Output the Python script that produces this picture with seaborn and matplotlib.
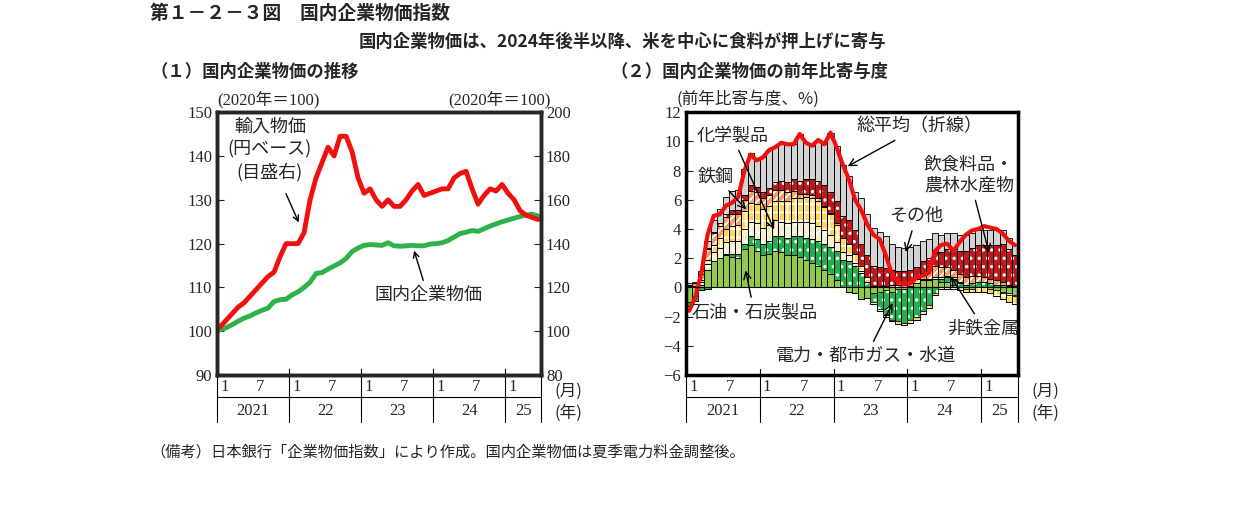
import matplotlib
matplotlib.use("Agg")
import matplotlib.pyplot as plt
import seaborn as sns
import numpy as np
import pandas as pd

# months Jan 2021 .. Jun 2025
n_months = 54
years = ["2021", "22", "23", "24", "25"]

# (1) price indices
import_price = [102, 105, 108, 111, 113, 116, 119, 122, 125, 127, 134, 140,
                140, 140, 145, 160, 170, 177, 184, 180, 189, 189, 182, 170,
                163, 165, 160, 157, 160, 157, 157, 160, 164, 167, 162, 163,
                164, 165, 165, 170, 172, 173, 165, 158, 162, 165, 164, 167,
                163, 160, 155, 153, 152, 151]
domestic_price = [100.3, 100.8, 101.5, 102.3, 103.0, 103.5, 104.2, 104.8, 105.3, 106.8, 107.2, 107.3,
                  108.3, 109.0, 110.0, 111.2, 113.2, 113.4, 114.2, 114.9, 115.6, 116.6, 118.2, 119.0,
                  119.6, 119.8, 119.7, 119.6, 120.2, 119.5, 119.4, 119.5, 119.6, 119.5, 119.5, 119.9,
                  120.0, 120.2, 120.7, 121.5, 122.3, 122.6, 123.0, 122.8, 123.4, 124.0, 124.5, 125.0,
                  125.4, 125.8, 126.2, 126.5, 126.7, 126.3]

# (2) contributions (% pt)
total = [-1.6, -0.7, 1.0, 3.6, 4.9, 5.0, 5.6, 5.8, 6.2, 8.0, 9.1, 8.7,
         8.9, 9.4, 9.6, 9.9, 9.8, 9.8, 10.5, 9.9, 9.7, 10.1, 9.8, 10.6,
         9.6, 8.4, 7.4, 6.0, 5.3, 4.3, 3.6, 3.3, 2.2, 0.9, 0.4, 0.2,
         0.3, 0.7, 0.8, 1.0, 2.5, 2.9, 3.0, 2.5, 3.1, 3.6, 3.9, 4.0,
         4.2, 4.1, 4.0, 3.7, 3.2, 2.9]
oil = [-1.0, -0.6, 0.2, 1.2, 1.8, 2.0, 2.2, 2.1, 2.0, 2.6, 2.9, 2.5,
       2.2, 2.3, 2.5, 2.4, 2.2, 2.2, 2.1, 1.9, 1.7, 1.5, 1.2, 0.9,
       0.5, 0.0, -0.3, -0.4, -0.8, -0.7, -0.4, -0.3, -0.2, -0.3, -0.1, -0.1,
       0.1, 0.3, 0.5, 0.5, 0.6, 0.4, 0.4, 0.2, 0.0, -0.1, -0.1, 0.0,
       0.0, -0.1, -0.2, -0.3, -0.4, -0.5]
electric = [-0.3, -0.3, -0.2, -0.1, 0.0, 0.0, 0.1, 0.2, 0.3, 0.4, 0.6, 0.8,
            0.8, 0.9, 1.0, 1.1, 1.2, 1.3, 1.4, 1.5, 1.6, 1.7, 1.8, 1.9,
            2.0, 1.9, 1.8, 1.5, 1.0, 0.4, -0.6, -1.2, -1.6, -1.9, -2.2, -2.3,
            -2.2, -2.0, -1.6, -1.2, -0.4, 0.2, 0.3, 0.4, 0.3, 0.2, 0.3, 0.4,
            0.4, 0.3, 0.2, 0.2, 0.1, 0.1]
chemical = [0.1, 0.1, 0.2, 0.4, 0.6, 0.7, 0.8, 0.9, 0.9, 1.0, 1.0, 1.1,
            1.1, 1.1, 1.1, 1.0, 1.0, 1.0, 1.0, 1.1, 1.1, 1.0, 0.9, 0.8,
            0.6, 0.5, 0.4, 0.2, 0.1, 0.0, -0.1, -0.1, -0.1, 0.0, 0.0, 0.0,
            0.0, 0.0, 0.1, 0.1, 0.1, 0.1, 0.1, 0.1, 0.1, 0.0, 0.0, 0.0,
            0.0, 0.0, 0.0, -0.1, -0.1, -0.1]
steel = [0.0, 0.0, 0.1, 0.3, 0.5, 0.7, 0.9, 1.0, 1.1, 1.2, 1.3, 1.3,
         1.3, 1.3, 1.3, 1.4, 1.5, 1.6, 1.6, 1.7, 1.7, 1.7, 1.6, 1.4,
         1.2, 1.0, 0.8, 0.6, 0.4, 0.3, 0.1, 0.0, -0.1, -0.1, -0.2, -0.2,
         -0.2, -0.2, -0.2, -0.2, -0.1, -0.1, -0.1, -0.1, -0.2, -0.2, -0.2, -0.3,
         -0.3, -0.3, -0.4, -0.4, -0.5, -0.5]
nonferrous = [0.1, 0.2, 0.4, 0.7, 0.8, 0.8, 0.8, 0.8, 0.7, 0.8, 0.8, 0.8,
              0.7, 0.7, 0.8, 0.8, 0.6, 0.5, 0.3, 0.2, 0.2, 0.2, 0.1, 0.1,
              0.1, 0.0, 0.0, 0.0, 0.0, 0.0, 0.0, 0.1, 0.1, 0.2, 0.2, 0.2,
              0.2, 0.3, 0.4, 0.6, 0.8, 0.7, 0.6, 0.5, 0.5, 0.5, 0.5, 0.4,
              0.3, 0.3, 0.3, 0.2, 0.1, 0.0]
food = [0.0, 0.0, 0.0, 0.1, 0.1, 0.2, 0.2, 0.3, 0.3, 0.3, 0.4, 0.4,
        0.4, 0.5, 0.5, 0.6, 0.7, 0.8, 0.9, 1.0, 1.1, 1.2, 1.4, 1.4,
        1.5, 1.5, 1.6, 1.6, 1.5, 1.5, 1.4, 1.3, 1.2, 1.0, 0.9, 0.9,
        0.9, 0.8, 0.8, 0.8, 0.9, 1.0, 1.2, 1.4, 1.6, 1.8, 1.9, 2.1,
        2.2, 2.3, 2.4, 2.6, 2.4, 2.1]
others = [0.1, 0.1, 0.2, 0.5, 0.8, 1.0, 1.2, 1.3, 1.4, 1.8, 2.2, 1.8,
          2.4, 2.6, 2.4, 2.6, 2.6, 2.4, 3.2, 2.5, 2.3, 2.8, 2.8, 4.1,
          3.8, 3.5, 3.0, 2.6, 3.1, 2.8, 2.6, 2.4, 2.2, 1.8, 1.7, 1.6,
          1.6, 1.5, 1.4, 1.3, 1.3, 1.2, 1.1, 1.1, 1.1, 1.1, 1.0, 1.0,
          1.0, 1.0, 1.0, 0.9, 0.8, 0.8]

sns.set_style("white")
plt.rcParams["font.family"] = ["Liberation Serif", "Noto Sans CJK JP"]
plt.rcParams["hatch.linewidth"] = 1.2
JP = ["Noto Sans CJK JP"]

x = np.arange(n_months)
df = pd.DataFrame({"x": x, "import": import_price, "domestic": domestic_price, "total": total})

fig = plt.figure(figsize=(12.41, 5.09), dpi=100)
axL = fig.add_axes([0.1749, 0.263, 0.2611, 0.5167])
axL2 = axL.twinx()
axR = fig.add_axes([0.5528, 0.263, 0.2675, 0.5167])


def style_xaxis(ax):
    ax.set_xlim(-0.5, n_months - 0.5)
    ax.set_xticks([i for i in range(n_months) if i % 6 == 0])
    ax.set_xticklabels(["1" if i % 12 == 0 else "7" for i in range(n_months) if i % 6 == 0],
                       fontsize=12, ha="left")
    ax.tick_params(axis="x", length=0, pad=3)
    for b in [-0.5, 11.5, 23.5, 35.5, 47.5, 53.5]:
        ax.plot([b, b], [0, -0.18], color="black", lw=0.8,
                transform=ax.get_xaxis_transform(), clip_on=False)
        ax.plot([b, b], [0, 0.025], color="black", lw=0.8,
                transform=ax.get_xaxis_transform(), clip_on=False)
    ax.plot([-0.5, n_months - 0.5], [-0.085, -0.085], color="black", lw=0.8,
            transform=ax.get_xaxis_transform(), clip_on=False)
    for yl, mid in zip(years, [5.5, 17.5, 29.5, 41.5, 50.5]):
        ax.text(mid, -0.135, yl, transform=ax.get_xaxis_transform(), ha="center",
                va="center", fontsize=12)
    ax.text(1.04, -0.06, "(月)", transform=ax.transAxes, ha="left", va="center", fontsize=12, family=JP)
    ax.text(1.04, -0.145, "(年)", transform=ax.transAxes, ha="left", va="center", fontsize=12, family=JP)
    for s in ax.spines.values():
        s.set_linewidth(2.5)
        s.set_color("black")


# ---- left panel ----
sns.lineplot(data=df, x="x", y="domestic", ax=axL, color="#2db34a", lw=3.5)
sns.lineplot(data=df, x="x", y="import", ax=axL2, color="#f01010", lw=3.5)
axL.set_ylim(90, 150)
axL2.set_ylim(80, 200)
axL.set_yticks(range(90, 151, 10))
axL2.set_yticks(range(80, 201, 20))
axL.tick_params(axis="y", direction="in", length=5, labelsize=12, left=True)
axL2.tick_params(axis="y", direction="in", length=5, labelsize=12, right=True)
axL.set_xlabel("")
axL.set_ylabel("")
axL2.set_ylabel("")
style_xaxis(axL)
for s in axL2.spines.values():
    s.set_linewidth(2.5)
axL.text(0.0, 1.015, "(2020年＝100)", transform=axL.transAxes, ha="left", va="bottom", fontsize=12)
axL.text(1.03, 1.015, "(2020年＝100)", transform=axL.transAxes, ha="right", va="bottom", fontsize=12)
axL2.annotate("", xy=(13.3, 148.5), xytext=(10.8, 164),
              arrowprops=dict(arrowstyle="->", color="black", lw=1))
axL.text(8.3, 148.7, "輸入物価\n(円ベース)\n(目盛右)", ha="center", va="top", fontsize=13,
         family=JP, linespacing=1.3)
axL.annotate("", xy=(32.2, 119), xytext=(34.0, 111.0),
             arrowprops=dict(arrowstyle="->", color="black", lw=1))
axL.text(34.7, 108.3, "国内企業物価", ha="center", va="center", fontsize=13, family=JP)

# ---- right panel ----
comps = [
    ("石油・石炭製品", oil, "#92c84e", None),
    ("電力・都市ガス・水道", electric, "#22b04c", ".."),
    ("化学製品", chemical, "#f3efcf", ".."),
    ("鉄鋼", steel, "#ffd457", "++"),
    ("非鉄金属", nonferrous, "#f0a060", "////"),
    ("飲食料品・農林水産物", food, "#c01818", ".."),
    ("その他", others, "#d3d3d3", None),
]
pos_base = np.zeros(n_months)
neg_base = np.zeros(n_months)
for name, vals, col, hatch in comps:
    v = np.array(vals)
    p = np.where(v > 0, v, 0)
    ng = np.where(v < 0, v, 0)
    for h, base in [(p, pos_base), (ng, neg_base)]:
        axR.bar(x, h, bottom=base, width=1.0, color=col, hatch=hatch,
                edgecolor="white", linewidth=0)
        axR.bar(x, h, bottom=base, width=1.0, fill=False, edgecolor="black", linewidth=0.6)
    pos_base += p
    neg_base += ng
sns.lineplot(data=df, x="x", y="total", ax=axR, color="#f01010", lw=3)
axR.axhline(0, color="black", lw=0.8)
axR.set_ylim(-6, 12)
axR.set_yticks(range(-6, 13, 2))
axR.tick_params(axis="y", direction="in", length=5, labelsize=12, left=True)
axR.set_xlabel("")
axR.set_ylabel("")
style_xaxis(axR)
axR.text(-0.03, 1.015, "(前年比寄与度、%)", transform=axR.transAxes, ha="left", va="bottom",
         fontsize=12, family=JP)

arrow = dict(arrowstyle="->", color="black", lw=1)
axR.annotate("総平均（折線）", xy=(25.4, 8.2), xytext=(37.5, 11.0), ha="center", va="center",
             fontsize=13, family=JP, arrowprops=arrow)
axR.annotate("化学製品", xy=(14.0, 3.8), xytext=(7.0, 10.4), ha="center", va="center",
             fontsize=13, family=JP, arrowprops=arrow)
axR.annotate("鉄鋼", xy=(9.6, 5.2), xytext=(4.3, 7.6), ha="center", va="center",
             fontsize=13, family=JP, arrowprops=arrow)
axR.annotate("飲食料品・\n農林水産物", xy=(48.9, 2.2), xytext=(45.5, 7.7), ha="center", va="center",
             fontsize=13, family=JP, arrowprops=arrow, linespacing=1.2)
axR.annotate("その他", xy=(35.1, 2.25), xytext=(37.0, 4.9), ha="center", va="center",
             fontsize=13, family=JP, arrowprops=arrow)
axR.annotate("石油・石炭製品", xy=(9.1, 1.35), xytext=(10.6, -1.7), ha="center", va="center",
             fontsize=13, family=JP, arrowprops=arrow)
axR.annotate("非鉄金属", xy=(42.4, 0.87), xytext=(47.9, -2.8), ha="center", va="center",
             fontsize=13, family=JP, arrowprops=arrow)
axR.annotate("電力・都市ガス・水道", xy=(33.3, -0.9), xytext=(28.8, -4.7), ha="center", va="center",
             fontsize=13, family=JP, arrowprops=arrow)

# ---- titles ----
fig.text(150 / 1241, 1 - 13 / 509, "第１－２－３図　国内企業物価指数", fontsize=13.5,
         fontweight="bold", family=JP, ha="left", va="center")
fig.text(622 / 1241, 1 - 42 / 509, "国内企業物価は、2024年後半以降、米を中心に食料が押上げに寄与",
         fontsize=12.5, fontweight="bold", family=JP, ha="center", va="center")
fig.text(150 / 1241, 1 - 72 / 509, "（１）国内企業物価の推移", fontsize=12.5, fontweight="bold",
         family=JP, ha="left", va="center")
fig.text(610 / 1241, 1 - 72 / 509, "（２）国内企業物価の前年比寄与度", fontsize=12.5, fontweight="bold",
         family=JP, ha="left", va="center")
fig.text(150 / 1241, 1 - 452 / 509, "（備考）日本銀行「企業物価指数」により作成。国内企業物価は夏季電力料金調整後。",
         fontsize=11, family=JP, ha="left", va="center")

fig.savefig("out.png", dpi=100)
